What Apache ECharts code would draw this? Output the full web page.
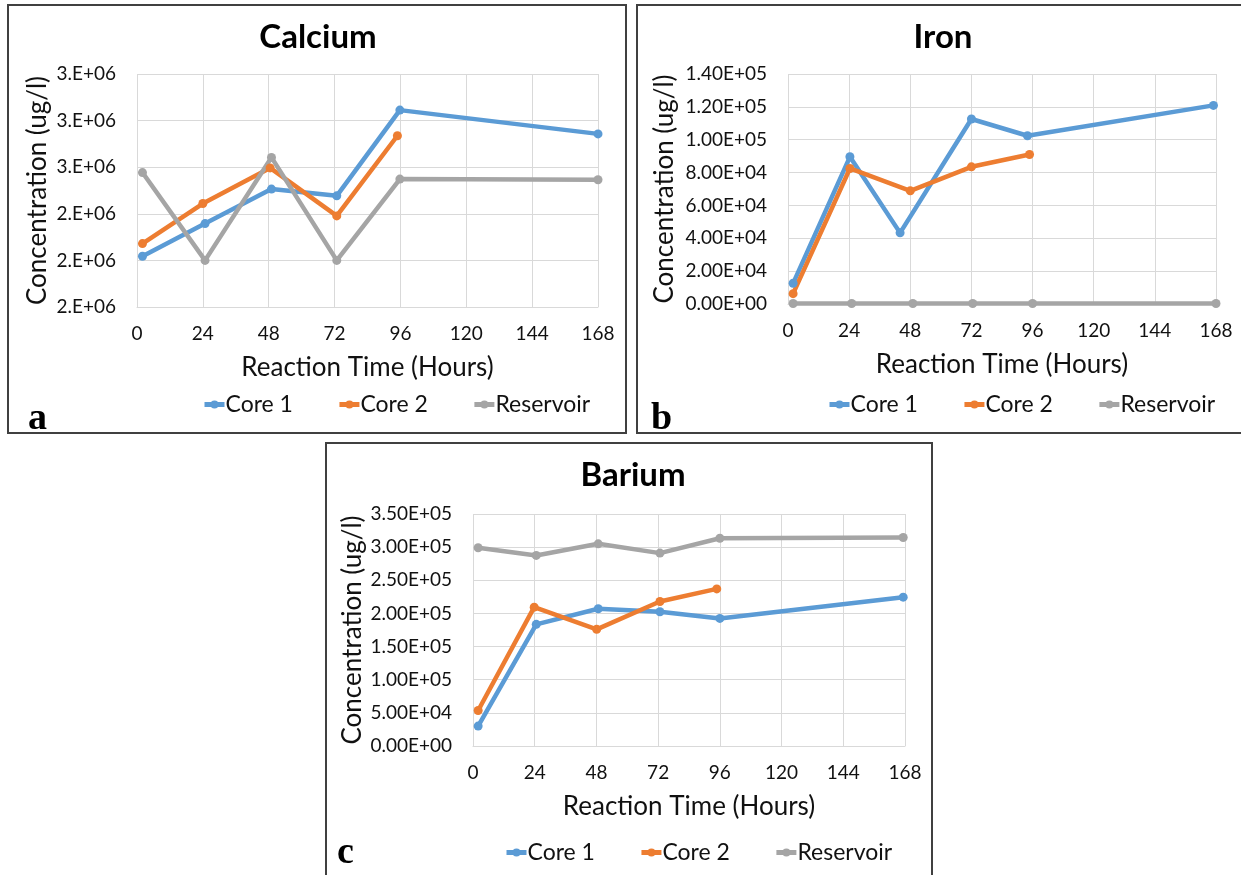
<!DOCTYPE html>
<html>
<head>
<meta charset="utf-8">
<script src="https://cdn.jsdelivr.net/npm/echarts@6/dist/echarts.min.js"></script>
<style>
html,body{margin:0;padding:0;background:#fff;}
#chart{width:1241px;height:875px;}
</style>
</head>
<body>
<div id="chart"></div>
<script>
// ---------- data ----------
const seriesNames = ['Core 1', 'Core 2', 'Reservoir'];
const seriesColors = ['#5B9BD5', '#ED7D31', '#A5A5A5'];
const xTicks = [0, 24, 48, 72, 96, 120, 144, 168];

// Calcium (ug/l)
const caCore1Time = [2, 24.8, 49, 72.8, 95.8, 168];
const caCore1 = [2218000, 2358000, 2506000, 2477000, 2845000, 2743000];
const caCore2Time = [2, 24, 48.5, 72.8, 94.9];
const caCore2 = [2272000, 2444000, 2597000, 2391000, 2735000];
const caResTime = [2, 24.8, 49, 72.8, 95.8, 168];
const caRes = [2577000, 2200000, 2642000, 2200000, 2549000, 2546000];
const caTicks = ['2.E+06', '2.E+06', '2.E+06', '3.E+06', '3.E+06', '3.E+06'];

// Iron (ug/l)
const feCore1Time = [2, 24.3, 44, 72, 94, 167];
const feCore1 = [12600, 89600, 43300, 112600, 102400, 120900];
const feCore2Time = [2, 24.3, 48, 72, 94.8];
const feCore2 = [6300, 82500, 68900, 83500, 91000];
const feResTime = [2, 25, 49, 72.5, 96, 168];
const feRes = [300, 300, 300, 300, 300, 300];
const feTicks = ['0.00E+00', '2.00E+04', '4.00E+04', '6.00E+04', '8.00E+04', '1.00E+05', '1.20E+05', '1.40E+05'];

// Barium (ug/l)
const baCore1Time = [2, 24.6, 48.7, 72.7, 96, 167.3];
const baCore1 = [30000, 183500, 207000, 202500, 192500, 224500];
const baCore2Time = [2, 23.8, 48.1, 72.7, 94.8];
const baCore2 = [53500, 209500, 176000, 218000, 237000];
const baResTime = [2, 24.6, 48.7, 72.7, 96, 167.3];
const baRes = [299000, 287500, 305000, 291000, 313500, 314500];
const baTicks = ['0.00E+00', '5.00E+04', '1.00E+05', '1.50E+05', '2.00E+05', '2.50E+05', '3.00E+05', '3.50E+05'];

const panelTitles = ['Calcium', 'Iron', 'Barium'];
const panelLetters = ['a', 'b', 'c'];
const xAxisName = 'Reaction Time (Hours)';
const yAxisName = 'Concentration (ug/l)';

// ---------- build ----------
const FONT = 'Lato, "Open Sans", sans-serif';
const TXT = '#111';
const GRIDC = '#D9D9D9';

function pairs(t, v) { return t.map((x, i) => [x, v[i]]); }

const panels = [
  { grid: {left: 137, top: 74, width: 461, height: 233}, y: {min: 2000000, max: 3000000, interval: 200000, ticks: caTicks}, nameGap: 86,
    data: [pairs(caCore1Time, caCore1), pairs(caCore2Time, caCore2), pairs(caResTime, caRes)],
    title: {x: 313, y: 16}, legend: {left: 197, top: 388}, letter: {x: 28, y: 400} },
  { grid: {left: 788, top: 74, width: 428, height: 230}, y: {min: 0, max: 140000, interval: 20000, ticks: feTicks}, nameGap: 110,
    data: [pairs(feCore1Time, feCore1), pairs(feCore2Time, feCore2), pairs(feResTime, feRes)],
    title: {x: 938, y: 16}, legend: {left: 822, top: 388}, letter: {x: 651, y: 400} },
  { grid: {left: 473, top: 514, width: 432, height: 232}, y: {min: 0, max: 350000, interval: 50000, ticks: baTicks}, nameGap: 107,
    data: [pairs(baCore1Time, baCore1), pairs(baCore2Time, baCore2), pairs(baResTime, baRes)],
    title: {x: 628, y: 454}, legend: {left: 499, top: 836}, letter: {x: 337, y: 834} }
];

const option = {
  animation: false,
  backgroundColor: '#fff',
  title: [], legend: [], grid: [], xAxis: [], yAxis: [], series: [],
  graphic: [
    {type: 'rect', shape: {x: 8, y: 5, width: 618, height: 428}, style: {fill: 'none', stroke: '#404040', lineWidth: 2}},
    {type: 'rect', shape: {x: 637, y: 5, width: 620, height: 428}, style: {fill: 'none', stroke: '#404040', lineWidth: 2}},
    {type: 'rect', shape: {x: 326, y: 443, width: 606, height: 450}, style: {fill: 'none', stroke: '#404040', lineWidth: 2}}
  ]
};

panels.forEach((p, k) => {
  option.graphic.push({type: 'text', left: p.letter.x, top: p.letter.y,
    style: {text: panelLetters[k], font: 'bold 38px "Liberation Serif", serif', fill: '#000'}});
  option.title.push({
    text: panelTitles[k], left: p.title.x, top: p.title.y, textAlign: 'center',
    textStyle: {fontFamily: FONT, fontWeight: 'bold', fontSize: 33, color: '#000'}
  });
  option.legend.push({
    data: seriesNames, left: p.legend.left, top: p.legend.top, width: 600,
    itemWidth: 20, itemHeight: 10, itemGap: 44,
    lineStyle: {width: 5},
    textStyle: {fontFamily: FONT, fontSize: 23, color: TXT, padding: [0, 0, 0, -4]}
  });
  option.grid.push(Object.assign({containLabel: false}, p.grid));
  option.xAxis.push({
    type: 'value', gridIndex: k, min: 0, max: 168, interval: 24,
    name: xAxisName, nameLocation: 'middle', nameGap: 48,
    nameTextStyle: {fontFamily: FONT, fontSize: 26, color: TXT},
    axisLine: {show: true, lineStyle: {color: GRIDC, width: 1}},
    axisTick: {show: false},
    axisLabel: {fontFamily: FONT, fontSize: 19, color: TXT, margin: 17,
      formatter: (v) => String(xTicks[Math.round(v / 24)])},
    splitLine: {show: true, lineStyle: {color: GRIDC, width: 1}}
  });
  option.yAxis.push({
    type: 'value', gridIndex: k, min: p.y.min, max: p.y.max, interval: p.y.interval,
    name: yAxisName, nameLocation: 'middle', nameGap: p.nameGap, nameRotate: 90,
    nameTextStyle: {fontFamily: FONT, fontSize: 26, color: TXT},
    axisLine: {show: false}, axisTick: {show: false},
    axisLabel: {fontFamily: FONT, fontSize: 19, color: TXT, margin: 21,
      formatter: (v) => p.y.ticks[Math.round((v - p.y.min) / p.y.interval)]},
    splitLine: {show: true, lineStyle: {color: GRIDC, width: 1}}
  });
  p.data.forEach((d, s) => {
    option.series.push({
      type: 'line', name: seriesNames[s], xAxisIndex: k, yAxisIndex: k,
      data: d, color: seriesColors[s],
      symbol: 'circle', symbolSize: 9, showSymbol: true,
      lineStyle: {width: 4.5, color: seriesColors[s]},
      itemStyle: {color: seriesColors[s]},
      emphasis: {disabled: true}
    });
  });
});

const chart = echarts.init(document.getElementById('chart'), null, {renderer: 'canvas'});
chart.setOption(option);
</script>
</body>
</html>
